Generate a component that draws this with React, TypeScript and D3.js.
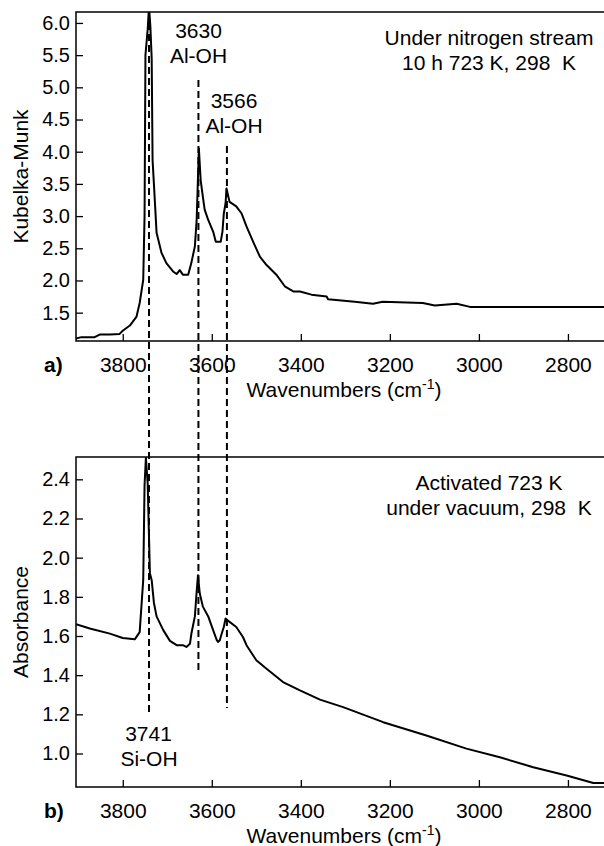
import { useRef, useEffect } from 'react';
import * as d3 from 'd3';

// panel a) Kubelka-Munk, under nitrogen stream
const wnA = [3905, 3893, 3863, 3852, 3829, 3807, 3800, 3784, 3769, 3762, 3754, 3751, 3749, 3744, 3741, 3738, 3735, 3733, 3730, 3724, 3713, 3702, 3687, 3679, 3672, 3665, 3653, 3646, 3638, 3634, 3631, 3629, 3625, 3620, 3616, 3608, 3597, 3591, 3580, 3576, 3573, 3569, 3567, 3560, 3545, 3533, 3522, 3507, 3492, 3477, 3455, 3436, 3417, 3402, 3376, 3342, 3339, 3279, 3238, 3216, 3126, 3099, 3050, 3020, 2719];
const kmA = [1.10, 1.12, 1.12, 1.16, 1.16, 1.17, 1.22, 1.30, 1.44, 1.65, 2.01, 3.0, 5.5, 5.9, 6.25, 5.95, 5.45, 3.87, 3.5, 2.74, 2.43, 2.27, 2.14, 2.10, 2.16, 2.09, 2.09, 2.27, 2.53, 2.94, 3.6, 4.05, 3.56, 3.3, 3.1, 2.94, 2.76, 2.6, 2.6, 2.76, 3.04, 3.2, 3.43, 3.22, 3.15, 3.04, 2.84, 2.60, 2.37, 2.24, 2.09, 1.91, 1.83, 1.83, 1.78, 1.75, 1.71, 1.67, 1.64, 1.67, 1.65, 1.61, 1.64, 1.59, 1.59];

// panel b) Absorbance, activated under vacuum
const wnB = [3905, 3874, 3829, 3800, 3773, 3762, 3754, 3751, 3748, 3744, 3739, 3735, 3730, 3724, 3709, 3694, 3679, 3665, 3657, 3649, 3646, 3638, 3634, 3631, 3627, 3620, 3608, 3597, 3589, 3586, 3582, 3578, 3573, 3569, 3560, 3545, 3530, 3522, 3500, 3477, 3440, 3402, 3357, 3305, 3215, 3118, 3028, 2953, 2878, 2803, 2743, 2719];
const absB = [1.66, 1.638, 1.612, 1.59, 1.583, 1.62, 1.885, 2.37, 2.51, 2.38, 1.92, 1.885, 1.77, 1.70, 1.63, 1.575, 1.553, 1.553, 1.544, 1.56, 1.61, 1.70, 1.825, 1.91, 1.817, 1.75, 1.70, 1.63, 1.58, 1.57, 1.578, 1.61, 1.646, 1.689, 1.672, 1.646, 1.595, 1.553, 1.476, 1.433, 1.365, 1.322, 1.275, 1.237, 1.16, 1.092, 1.025, 0.981, 0.93, 0.888, 0.849, 0.849];

const xTicks = [3800, 3600, 3400, 3200, 3000, 2800];
const yTicksA = [1.5, 2.0, 2.5, 3.0, 3.5, 4.0, 4.5, 5.0, 5.5, 6.0];
const yTicksB = [1.0, 1.2, 1.4, 1.6, 1.8, 2.0, 2.2, 2.4];

const peaks = [3741, 3630, 3566];

const FONT = '"Liberation Sans", Arial, sans-serif';

const App = () => {
  const ref = useRef(null);

  useEffect(() => {
    const svg = d3.select(ref.current);
    svg.selectAll('*').remove();

    const left = 76, right = 604;
    const x = d3.scaleLinear().domain([3905, 2719]).range([left, right]);

    const panels = [
      { wn: wnA, val: kmA, top: 12, bottom: 341, dom: [1.06, 6.17], ticks: yTicksA, label: 'Kubelka-Munk', tag: 'a)', id: 'ca' },
      { wn: wnB, val: absB, top: 457, bottom: 787, dom: [0.829, 2.514], ticks: yTicksB, label: 'Absorbance', tag: 'b)', id: 'cb' },
    ];

    panels.forEach(p => {
      const y = d3.scaleLinear().domain(p.dom).range([p.bottom, p.top]);
      const g = svg.append('g');

      g.append('clipPath').attr('id', p.id)
        .append('rect').attr('x', left).attr('y', p.top)
        .attr('width', right - left).attr('height', p.bottom - p.top);

      const xa = g.append('g')
        .attr('transform', `translate(0, ${p.bottom})`)
        .call(d3.axisBottom(x).tickValues(xTicks).tickSizeInner(-7).tickSizeOuter(0).tickPadding(16).tickFormat(d3.format('d')));
      const ya = g.append('g')
        .attr('transform', `translate(${left}, 0)`)
        .call(d3.axisLeft(y).tickValues(p.ticks).tickSizeInner(-7).tickSizeOuter(0).tickPadding(6).tickFormat(d3.format('.1f')));

      [xa, ya].forEach(a => {
        a.select('.domain').remove();
        a.selectAll('line').attr('stroke', '#000').attr('stroke-width', 1.3);
        a.selectAll('text').attr('font-family', FONT).attr('font-size', 21).attr('fill', '#000');
      });
      ya.selectAll('text').attr('font-size', 20);

      // frame (top, left, bottom)
      g.append('path')
        .attr('d', `M${right},${p.top}H${left}V${p.bottom}H${right}`)
        .attr('fill', 'none').attr('stroke', '#000').attr('stroke-width', 1.5);

      const line = d3.line().x(i => x(p.wn[i])).y(i => y(p.val[i]));
      g.append('path')
        .attr('d', line(d3.range(p.wn.length)))
        .attr('clip-path', `url(#${p.id})`)
        .attr('fill', 'none').attr('stroke', '#000').attr('stroke-width', 2)
        .attr('stroke-linejoin', 'round');

      g.append('text')
        .attr('transform', `translate(28, ${(p.top + p.bottom) / 2}) rotate(-90)`)
        .attr('text-anchor', 'middle')
        .attr('font-family', FONT).attr('font-size', 21).attr('fill', '#000')
        .text(p.label);

      g.append('text')
        .attr('x', 44).attr('y', p.bottom + 31)
        .attr('font-family', FONT).attr('font-size', 21).attr('font-weight', 'bold').attr('fill', '#000')
        .text(p.tag);

      g.append('text')
        .attr('x', (left + right) / 2 + 4).attr('y', p.bottom + 56)
        .attr('text-anchor', 'middle')
        .attr('font-family', FONT).attr('font-size', 21).attr('fill', '#000')
        .text('Wavenumbers (cm')
        .call(t => t.append('tspan').attr('font-size', 14).attr('dy', -8).text('-1'))
        .call(t => t.append('tspan').attr('dy', 8).text(')'));
    });

    // dashed peak markers
    const spans = [[12, 713], [80, 672], [146, 708]];
    svg.selectAll('.peak')
      .data(peaks)
      .enter().append('line')
      .attr('class', 'peak')
      .attr('x1', d => x(d)).attr('x2', d => x(d))
      .attr('y1', (d, i) => spans[i][0]).attr('y2', (d, i) => spans[i][1])
      .attr('stroke', '#000').attr('stroke-width', 2).attr('stroke-dasharray', '7,4');

    const labels = [
      { t: '3630', x: 198.5, y: 38 }, { t: 'Al-OH', x: 198.5, y: 63 },
      { t: '3566', x: 234, y: 108 }, { t: 'Al-OH', x: 234, y: 133 },
      { t: 'Under nitrogen stream', x: 489, y: 45 }, { t: '10 h 723 K, 298  K', x: 489, y: 70 },
      { t: 'Activated 723 K', x: 489, y: 490 }, { t: 'under vacuum, 298  K', x: 489, y: 515 },
      { t: '3741', x: 148.5, y: 741 }, { t: 'Si-OH', x: 149, y: 766 },
    ];
    svg.selectAll('.ann')
      .data(labels)
      .enter().append('text')
      .attr('class', 'ann')
      .attr('x', d => d.x).attr('y', d => d.y)
      .attr('text-anchor', 'middle')
      .attr('font-family', FONT).attr('font-size', 21).attr('fill', '#000')
      .attr('xml:space', 'preserve').style('white-space', 'pre')
      .text(d => d.t);
  }, []);

  return (
    <svg ref={ref} width={604} height={846} style={{ position: 'absolute', left: 0, top: 0, background: '#fff' }}></svg>
  );
};

export default App;
